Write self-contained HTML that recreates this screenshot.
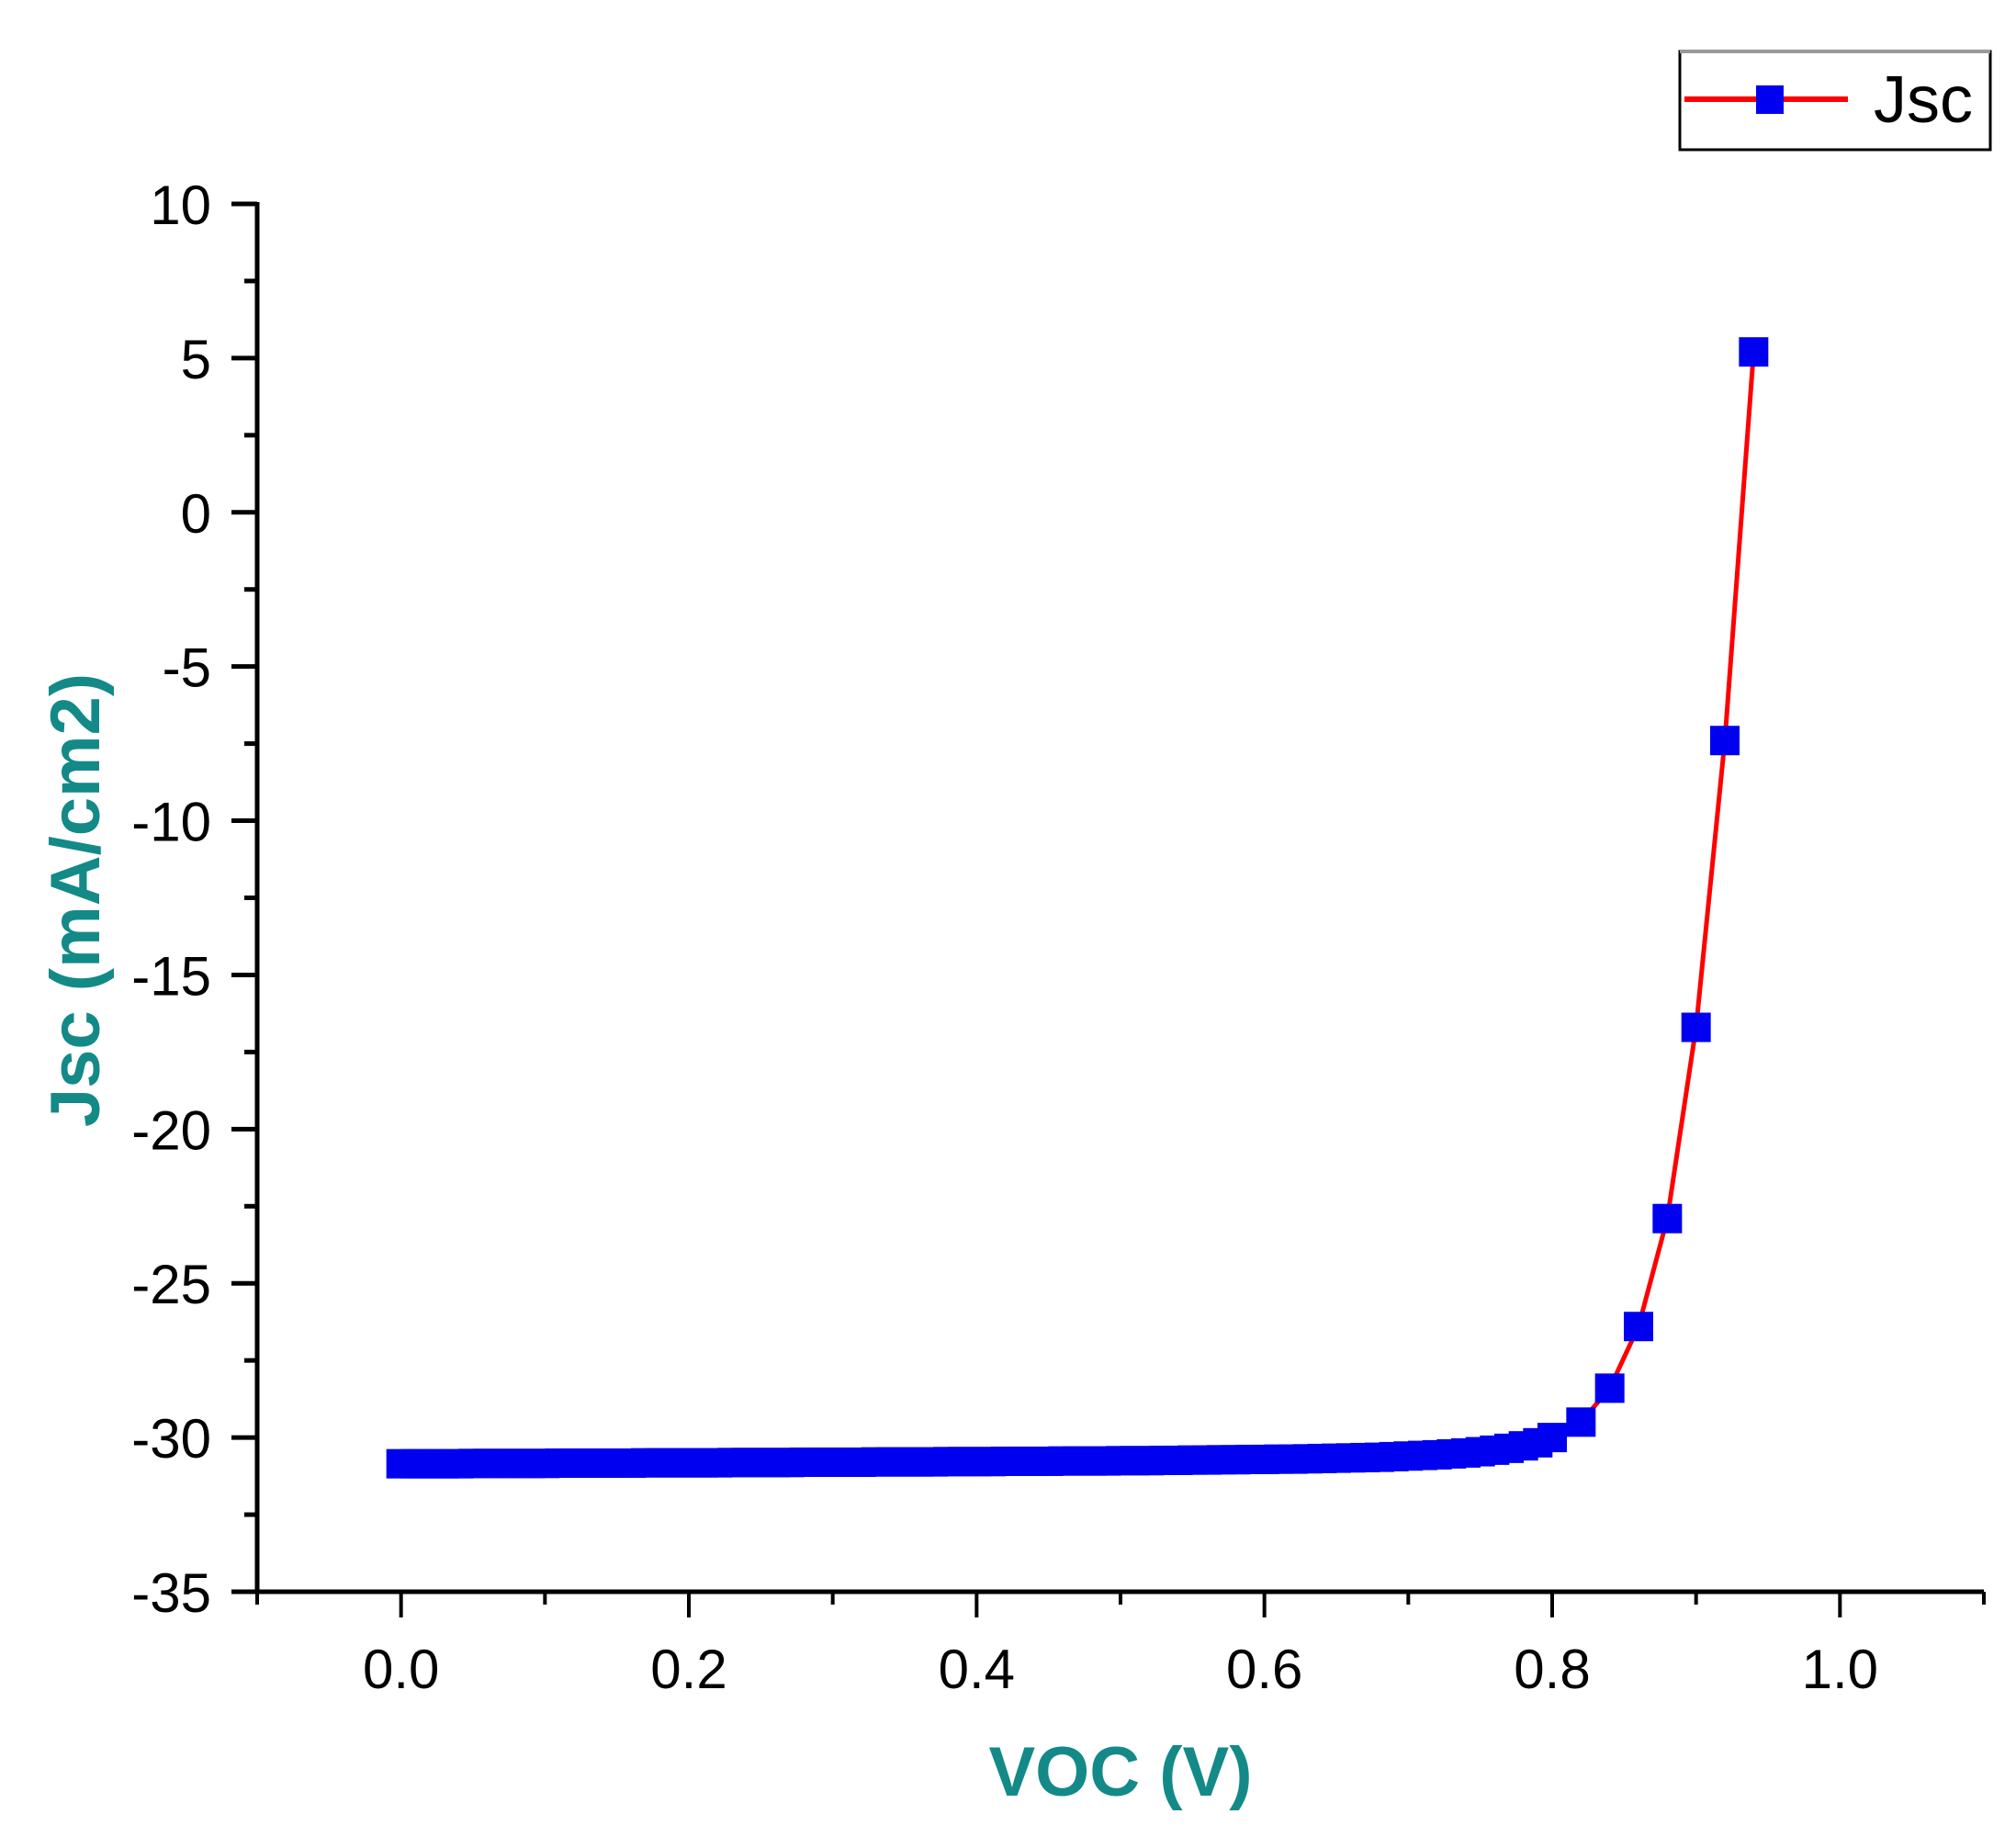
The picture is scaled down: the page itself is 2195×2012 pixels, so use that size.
<!DOCTYPE html>
<html><head><meta charset="utf-8"><style>
html,body{margin:0;padding:0;background:#fff;}
svg{display:block;font-family:"Liberation Sans",Arial,sans-serif;}
</style></head><body>
<svg id="chart" width="2195" height="2012" viewBox="0 0 2195 2012" xmlns="http://www.w3.org/2000/svg">
<g id="axes"></g>
<g id="series"></g>
<text x="1220" y="1955" text-anchor="middle" font-size="76" font-weight="bold" fill="#138a88">VOC (V)</text>
<text transform="translate(108,980) rotate(-90)" text-anchor="middle" font-size="76" font-weight="bold" fill="#138a88">Jsc (mA/cm2)</text>
<g>
<rect x="1829" y="56" width="338" height="107" fill="#fff" stroke="#000" stroke-width="3"/>
<line x1="1829" y1="56" x2="2167" y2="56" stroke="#999" stroke-width="4"/>
<line x1="1834" y1="108" x2="2012" y2="108" stroke="#f00" stroke-width="6"/>
<rect x="1912" y="93" width="30" height="31" fill="#0000f0"/>
<text x="2040" y="133" font-size="72" fill="#000">Jsc</text>
</g>
</svg>
<script>
const voc = [0,0.01,0.02,0.03,0.04,0.05,0.06,0.07,0.08,0.09,0.10,0.11,0.12,0.13,0.14,0.15,0.16,0.17,0.18,0.19,0.20,0.21,0.22,0.23,0.24,0.25,0.26,0.27,0.28,0.29,0.30,0.31,0.32,0.33,0.34,0.35,0.36,0.37,0.38,0.39,0.40,0.41,0.42,0.43,0.44,0.45,0.46,0.47,0.48,0.49,0.50,0.51,0.52,0.53,0.54,0.55,0.56,0.57,0.58,0.59,0.60,0.61,0.62,0.63,0.64,0.65,0.66,0.67,0.68,0.69,0.70,0.71,0.72,0.73,0.74,0.75,0.76,0.77,0.78,0.79,0.80,0.82,0.84,0.86,0.88,0.90,0.92,0.94];
const jsc = [-30.85,-30.85,-30.85,-30.85,-30.85,-30.84,-30.84,-30.84,-30.84,-30.84,-30.84,-30.83,-30.83,-30.83,-30.83,-30.83,-30.83,-30.82,-30.82,-30.82,-30.82,-30.82,-30.82,-30.81,-30.81,-30.81,-30.81,-30.81,-30.80,-30.80,-30.80,-30.80,-30.80,-30.79,-30.79,-30.79,-30.79,-30.79,-30.78,-30.78,-30.78,-30.78,-30.77,-30.77,-30.77,-30.77,-30.76,-30.76,-30.76,-30.76,-30.75,-30.75,-30.75,-30.74,-30.74,-30.73,-30.73,-30.72,-30.72,-30.71,-30.71,-30.70,-30.70,-30.69,-30.68,-30.67,-30.66,-30.65,-30.64,-30.62,-30.60,-30.58,-30.56,-30.53,-30.50,-30.46,-30.41,-30.35,-30.27,-30.17,-30.0,-29.5,-28.4,-26.4,-22.9,-16.7,-7.4,5.2];
const xTicks = ["0.0","0.2","0.4","0.6","0.8","1.0"];
const yTicks = ["10","5","0","-5","-10","-15","-20","-25","-30","-35"];
const NS="http://www.w3.org/2000/svg";
const X0=280, X1=2160, XMIN=-0.1, XMAX=1.1;
const Y0=1733, Y1=222, YMIN=-35, YMAX=10;
function sx(v){return X0+(v-XMIN)/(XMAX-XMIN)*(X1-X0);}
function sy(v){return Y0-(v-YMIN)/(YMAX-YMIN)*(Y0-Y1);}
function mk(tag,attrs,parent){const e=document.createElementNS(NS,tag);for(const k in attrs)e.setAttribute(k,attrs[k]);parent.appendChild(e);return e;}
const axes=document.getElementById('axes');
let l=mk('line',{x1:X0,y1:Y1-2,x2:X0,y2:Y0+2,stroke:'#000','stroke-width':5},axes);


l=mk('line',{x1:X0-2,y1:Y0,x2:X1,y2:Y0,stroke:'#000','stroke-width':5},axes);


yTicks.forEach(t=>{const v=parseFloat(t);const y=sy(v);
 mk('line',{x1:X0-28,y1:y,x2:X0,y2:y,stroke:'#000','stroke-width':5},axes);
 const tx=mk('text',{x:X0-50,y:y+22,'text-anchor':'end','font-size':60,fill:'#000'},axes);tx.textContent=t;
 
 
 if(v>YMIN){mk('line',{x1:X0-14,y1:sy(v-2.5),x2:X0,y2:sy(v-2.5),stroke:'#000','stroke-width':5},axes);}
});
for(let i=-1;i<=11;i++){const v=i/10;const x=sx(v);const major=(i%2===0&&i>=0);
 mk('line',{x1:x,y1:Y0,x2:x,y2:Y0+(major?28:14),stroke:'#000','stroke-width':4},axes);}
xTicks.forEach(t=>{const x=sx(parseFloat(t));
 const tx=mk('text',{x:x,y:Y0+105,'text-anchor':'middle','font-size':60,fill:'#000'},axes);tx.textContent=t;
 
 });
const ser=document.getElementById('series');
const pts=voc.map((v,i)=>sx(v)+','+sy(jsc[i])).join(' ');
const pl=mk('polyline',{points:pts,fill:'none',stroke:'#f00','stroke-width':5},ser);


voc.forEach((v,i)=>{const r=mk('rect',{x:sx(v)-16,y:sy(jsc[i])-16,width:32,height:32,fill:'#0000f0'},ser);
 
 });
</script>
</body></html>
